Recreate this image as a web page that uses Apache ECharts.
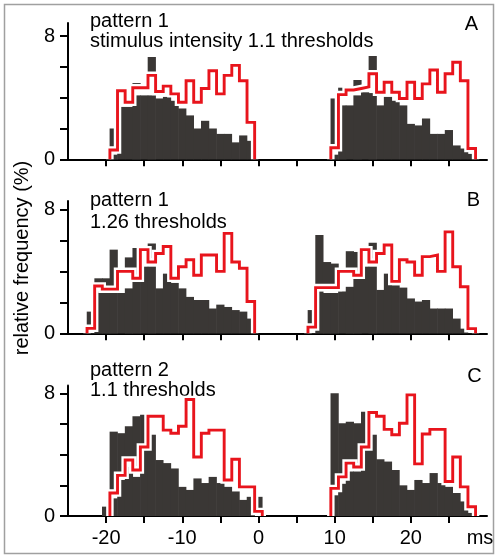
<!DOCTYPE html>
<html><head><meta charset="utf-8">
<script src="https://cdn.jsdelivr.net/npm/echarts@6/dist/echarts.min.js"></script>
<style>html,body{margin:0;padding:0;background:#fff}#c{width:498px;height:559px}</style>
</head><body><div id="c"></div>
<script>
// bin centres (ms), 1 ms bins
const leftBins  = [-22,-21,-20,-19,-18,-17,-16,-15,-14,-13,-12,-11,-10,-9,-8,-7,-6,-5,-4,-3,-2,-1,0];
const rightBins = [7,8,9,10,11,12,13,14,15,16,17,18,19,20,21,22,23,24,25,26,27,28];

// Panel A
const aLeftRed  = [null,null,null,0.6,4.45,3.7,4.65,4.65,5.45,4.4,4.75,4.25,3.7,5.1,3.7,4.6,5.75,4.25,5.45,6.1,5.1,2.4,null];
const aLeftDark = [null,null,null,0.3,3.4,3.4,4.15,4.15,4.15,3.95,4.05,3.8,3.3,2.85,2.0,2.5,2.0,1.65,1.65,1.1,1.55,1.2,null];
const aLeftTop  = [null,null,null,2.0,null,null,4.95,null,6.65,null,null,null,null,null,null,null,null,null,null,null,null,null,null];
const aRightRed  = [null,null,null,0.75,4.2,4.5,4.6,4.7,5.55,4.35,5.0,4.35,3.95,5.0,3.95,4.9,5.8,4.35,5.55,6.3,5.1,0.7];
const aRightDark = [null,null,null,0.3,3.5,3.5,4.15,4.35,4.3,3.5,4.05,3.8,3.5,2.3,2.2,2.65,1.65,1.65,1.9,0.9,0.7,0.35];
const aRightTop  = [null,null,null,3.95,4.65,null,5.15,null,6.7,null,null,null,null,null,null,null,null,null,null,null,null,null];

// Panel B
const bLeftRed  = [0.32,3.05,2.85,2.85,4.0,4.0,3.55,5.4,4.6,5.15,5.6,3.55,4.3,4.75,3.75,5.05,5.05,4.0,6.45,4.6,4.2,2.05,null];
const bLeftDark = [null,2.7,2.6,2.6,2.6,2.9,3.45,4.3,4.3,2.9,3.85,3.25,2.9,2.35,2.15,2.15,1.6,1.85,1.7,1.5,1.4,0.95,null];
const bLeftTop  = [1.4,3.55,3.55,5.4,null,4.9,5.5,null,5.8,null,null,null,null,null,null,null,null,null,null,null,null,null,null];
const bRightRed  = [0.4,2.95,2.95,2.95,4.0,4.0,3.75,5.4,4.6,5.15,5.7,3.35,4.75,4.6,3.75,4.95,5.05,4.0,6.55,4.3,3.0,0.3];
const bRightDark = [null,2.7,2.6,2.6,2.7,3.0,3.55,4.3,4.3,2.8,3.85,3.1,2.95,2.25,2.05,2.15,1.6,1.6,1.6,0.95,0.3,null];
const bRightTop  = [1.5,6.35,4.6,4.5,null,5.3,5.25,null,5.85,null,null,null,null,null,null,null,null,null,null,null,null,null];

// Panel C
const cLeftRed  = [null,null,null,1.5,2.65,3.65,3.0,4.5,6.5,6.5,5.6,5.4,5.85,7.6,3.85,5.4,5.6,5.6,2.35,3.7,1.9,1.9,0.3];
const cLeftDark = [null,null,0.6,1.15,2.35,3.2,2.55,4.3,5.3,3.65,3.45,3.1,1.9,1.7,2.45,2.15,2.55,2.15,1.9,1.6,1.05,1.25,null];
const cLeftTop  = [null,null,0.6,5.5,5.4,5.85,6.5,6.6,null,null,null,null,null,null,null,null,null,null,null,null,null,null,1.25];
const cRightRed  = [null,null,null,1.8,2.55,3.45,3.2,4.5,6.75,6.5,5.65,5.3,6.05,7.9,3.4,5.35,5.65,5.65,2.25,3.85,1.9,0.6];
const cRightDark = [null,null,null,1.35,2.1,2.9,2.9,4.3,5.3,3.7,3.55,3.0,2.0,1.7,2.35,2.15,2.8,2.15,1.9,1.5,0.95,0.2];
const cRightTop  = [null,null,null,8.0,6.05,6.15,6.05,6.8,null,null,null,null,null,null,null,null,null,null,null,null,null,null];

// axis ticks / labels
const xTicks = [-20,-15,-10,-5,0,5,10,15,20,25];
const xLabels = [-20,-10,0,10,20];
const yTicks = [0,2,4,6,8];
const yLabels = [0,8];
const titles = [
  ['pattern 1','stimulus intensity 1.1 thresholds','A'],
  ['pattern 1','1.26 thresholds','B'],
  ['pattern 2','1.1 thresholds','C']
];

const DARK = '#3a3735';
const RED = '#e8141c';
const FONT = '"Liberation Sans", Arial, sans-serif';

const panels = [
  {grid:{left:68,top:23,width:419,height:136.3}, yMax:8.85, left:[aLeftRed,aLeftDark,aLeftTop], right:[aRightRed,aRightDark,aRightTop]},
  {grid:{left:68,top:201,width:419,height:132.3}, yMax:8.54, left:[bLeftRed,bLeftDark,bLeftTop], right:[bRightRed,bRightDark,bRightTop]},
  {grid:{left:68,top:385.5,width:419,height:130.5}, yMax:8.51, left:[cLeftRed,cLeftDark,cLeftTop], right:[cRightRed,cRightDark,cRightTop]}
];

function stepPaths(bins, vals){
  const segs=[]; let cur=null;
  bins.forEach((b,i)=>{
    const v=vals[i];
    if(v==null){ if(cur){cur.push([bins[i-1]+0.5,0]); segs.push(cur); cur=null;} return; }
    if(!cur) cur=[[b-0.5,0]];
    cur.push([b-0.5,v],[b+0.5,v]);
  });
  if(cur){ cur.push([bins[bins.length-1]+0.5,0]); segs.push(cur); }
  return segs;
}
function barData(bins, vals){
  const out=[]; bins.forEach((b,i)=>{ if(vals[i]!=null) out.push([b,vals[i]]); }); return out;
}
function renderBar(params, api){
  const x=api.value(0), v=api.value(1);
  const p0=api.coord([x-0.5,v]), p1=api.coord([x+0.5,0]);
  return {type:'rect', shape:{x:p0[0]-0.3, y:p0[1], width:p1[0]-p0[0]+0.6, height:p1[1]-p0[1]}, style:{fill:DARK, stroke:null}};
}

const grid=[], xAxis=[], yAxis=[], series=[], graphic=[];
panels.forEach((p,k)=>{
  grid.push(p.grid);
  xAxis.push({type:'value', gridIndex:k, min:-25, max:30, interval:5,
    axisLine:{onZero:false, lineStyle:{color:'#000',width:2}},
    axisTick:{show:true, length:7, lineStyle:{color:'#000',width:2}, customValues:xTicks},
    axisLabel:{show:k===2, customValues:xLabels, fontSize:20, color:'#000', fontFamily:FONT, margin:12},
    splitLine:{show:false}});
  yAxis.push({type:'value', gridIndex:k, min:0, max:p.yMax,
    axisLine:{show:true, onZero:false, lineStyle:{color:'#000',width:2}},
    axisTick:{show:true, length:8, lineStyle:{color:'#000',width:2}, customValues:yTicks},
    axisLabel:{show:true, customValues:yLabels, fontSize:20, color:'#000', fontFamily:FONT, margin:13},
    splitLine:{show:false}});
  const tops = barData(leftBins,p.left[2]).concat(barData(rightBins,p.right[2]));
  const darks = barData(leftBins,p.left[1]).concat(barData(rightBins,p.right[1]));
  series.push({type:'custom', xAxisIndex:k, yAxisIndex:k, z:1, data:tops, renderItem:renderBar, encode:{x:0,y:1}, silent:true, animation:false});
  const segs = stepPaths(leftBins,p.left[0]).concat(stepPaths(rightBins,p.right[0]));
  segs.forEach(s=>{
    series.push({type:'line', xAxisIndex:k, yAxisIndex:k, z:2, data:s, symbol:'none', animation:false, silent:true,
      lineStyle:{width:0, opacity:0}, areaStyle:{color:'#ffffff', opacity:1}});
  });
  series.push({type:'custom', xAxisIndex:k, yAxisIndex:k, z:3, data:darks, renderItem:renderBar, encode:{x:0,y:1}, silent:true, animation:false});
  segs.forEach(s=>{
    series.push({type:'line', xAxisIndex:k, yAxisIndex:k, z:4, data:s, symbol:'none', animation:false, silent:true,
      lineStyle:{color:'#ffffff', width:7.5, join:'miter', cap:'butt'}});
    series.push({type:'line', xAxisIndex:k, yAxisIndex:k, z:5, data:s, symbol:'none', animation:false, silent:true,
      lineStyle:{color:RED, width:2.9, join:'miter', cap:'butt'}});
  });
});

const lineY = [[21,41.5,24],[200.5,222.5,200],[370,390.5,376]];
const letterX = [471.5,473.5,474.5];
titles.forEach((t,k)=>{
  graphic.push({type:'text', x:90, y:lineY[k][0], style:{text:t[0], font:'20px '+FONT, fill:'#000', textVerticalAlign:'middle', verticalAlign:'middle'}});
  graphic.push({type:'text', x:90, y:lineY[k][1], style:{text:t[1], font:'20px '+FONT, fill:'#000', textVerticalAlign:'middle', verticalAlign:'middle'}});
  graphic.push({type:'text', x:letterX[k], y:lineY[k][2], style:{text:t[2], font:'20px '+FONT, fill:'#000', textAlign:'center', align:'center', textVerticalAlign:'middle', verticalAlign:'middle'}});
});
graphic.push({type:'text', x:480, y:538, style:{text:'ms', font:'20px '+FONT, fill:'#000', textAlign:'center', align:'center', textVerticalAlign:'middle', verticalAlign:'middle'}});
graphic.push({type:'text', x:22, y:258, rotation:Math.PI/2, style:{text:'relative frequency (%)', font:'20px '+FONT, fill:'#000', textAlign:'center', align:'center', textVerticalAlign:'middle', verticalAlign:'middle'}});
graphic.push({type:'rect', z:-1, shape:{x:4.5,y:4.5,width:489,height:549}, style:{fill:'none', stroke:'#a0a0a0', lineWidth:1.5}});

const chart = echarts.init(document.getElementById('c'), null, {renderer:'canvas'});
chart.setOption({animation:false, backgroundColor:'#fff', grid, xAxis, yAxis, series, graphic});
</script></body></html>
